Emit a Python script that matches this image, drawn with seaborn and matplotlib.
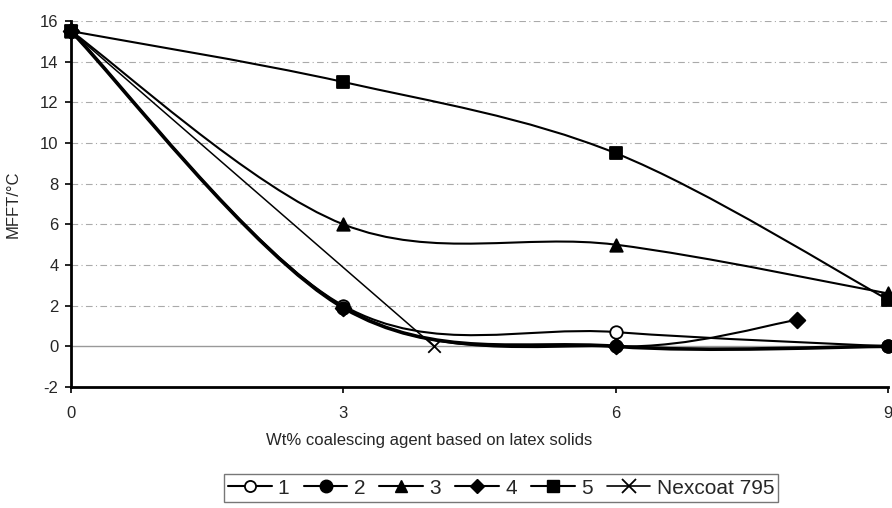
import matplotlib
matplotlib.use("Agg")
import matplotlib.pyplot as plt
from matplotlib.path import Path
from matplotlib.patches import PathPatch
from matplotlib.lines import Line2D
import seaborn as sns
import pandas as pd

# MFFT vs coalescing agent level
x_1 = [0, 3, 6, 9]
y_1 = [15.5, 2.0, 0.7, 0.0]
x_2 = [0, 3, 6, 9]
y_2 = [15.5, 1.9, 0.0, 0.0]
x_3 = [0, 3, 6, 9]
y_3 = [15.5, 6.0, 5.0, 2.6]
x_4 = [0, 3, 6, 8]
y_4 = [15.5, 1.9, 0.0, 1.3]
x_5 = [0, 3, 6, 9]
y_5 = [15.5, 13.0, 9.5, 2.3]
x_nex = [0, 4]
y_nex = [15.5, 0.0]

labels = ["1", "2", "3", "4", "5", "Nexcoat 795"]
x_ticks = [0, 3, 6, 9]
y_ticks = [-2, 0, 2, 4, 6, 8, 10, 12, 14, 16]

series = [
    (labels[3], x_4, y_4, "D", "black", 1.5, 8),
    (labels[4], x_5, y_5, "s", "black", 1.5, 9),
    (labels[2], x_3, y_3, "^", "black", 1.5, 9),
    (labels[0], x_1, y_1, "o", "white", 1.5, 9),
    (labels[1], x_2, y_2, "o", "black", 2.6, 9),
    (labels[5], x_nex, y_nex, "x", "black", 1.1, 9),
]


def smooth_path(xs, ys):
    # Excel-style smoothed line: cubic bezier segments through the points
    pts = list(zip(xs, ys))
    n = len(pts)
    verts = [pts[0]]
    codes = [Path.MOVETO]
    for i in range(n - 1):
        p0 = pts[i - 1] if i > 0 else pts[i]
        p1 = pts[i]
        p2 = pts[i + 1]
        p3 = pts[i + 2] if i + 2 < n else pts[i + 1]
        c1 = (p1[0] + (p2[0] - p0[0]) / 6, p1[1] + (p2[1] - p0[1]) / 6)
        c2 = (p2[0] - (p3[0] - p1[0]) / 6, p2[1] - (p3[1] - p1[1]) / 6)
        verts += [c1, c2, p2]
        codes += [Path.CURVE4] * 3
    return Path(verts, codes)


sns.set_style("white")
plt.rcParams["font.family"] = ["Liberation Sans", "DejaVu Sans"]
plt.rcParams["axes.unicode_minus"] = False

fig = plt.figure(figsize=(8.92, 5.08), dpi=100)
ax = fig.add_axes([71 / 892, 1 - 387 / 508, 817 / 892, 366 / 508])

# grid
for yv in y_ticks[1:]:
    if yv == 0:
        ax.axhline(yv, color="#999999", lw=1.0, zorder=0)
    else:
        ax.axhline(yv, color="#aaaaaa", lw=0.8, ls=(0, (6, 3, 1, 3)), zorder=0)

for name, xs, ys, mk, fc, lw, ms in series:
    ax.add_patch(PathPatch(smooth_path(xs, ys), fill=False, edgecolor="black",
                           lw=lw, zorder=2, clip_on=False))
    df = pd.DataFrame({"x": xs, "y": ys})
    if mk == "x":
        sns.scatterplot(data=df, x="x", y="y", marker="x", s=ms ** 2, color="black",
                        linewidth=1.3, ax=ax, zorder=3, clip_on=False, legend=False)
    else:
        sns.scatterplot(data=df, x="x", y="y", marker=mk, s=ms ** 2, color=fc,
                        edgecolor="black", linewidth=1.3, ax=ax, zorder=3,
                        clip_on=False, legend=False)

ax.set_xlim(0, 9)
ax.set_ylim(-2, 16)
ax.set_xticks(x_ticks)
ax.set_yticks(y_ticks)
ax.tick_params(axis="both", labelsize=12, length=4, width=1.2, direction="out",
               color="black", bottom=True, left=True)
ax.tick_params(axis="x", pad=10)
ax.tick_params(axis="y", pad=5)
for s in ["top", "right"]:
    ax.spines[s].set_visible(False)
for s in ["left", "bottom"]:
    ax.spines[s].set_color("black")
    ax.spines[s].set_linewidth(2.0)

ax.set_xlabel("Wt% coalescing agent based on latex solids", fontsize=12)
ax.xaxis.set_label_coords((429 - 71) / 817, (387 - 440) / 366)
ax.xaxis.label.set_va("center")
ax.set_ylabel("MFFT/°C", fontsize=12)
ax.yaxis.set_label_coords((13 - 71) / 817, 0.5)
ax.yaxis.label.set_va("center")

handles = [
    Line2D([], [], color="black", lw=1.5, marker="o", mfc="white", mec="black", ms=8, mew=1.3),
    Line2D([], [], color="black", lw=1.5, marker="o", mfc="black", mec="black", ms=9),
    Line2D([], [], color="black", lw=1.5, marker="^", mfc="black", mec="black", ms=9),
    Line2D([], [], color="black", lw=1.5, marker="D", mfc="black", mec="black", ms=7),
    Line2D([], [], color="black", lw=1.5, marker="s", mfc="black", mec="black", ms=9),
    Line2D([], [], color="black", lw=1.2, marker="x", mfc="black", mec="black", ms=10, mew=1.3),
]
leg = fig.legend(handles, labels, loc="center", ncol=6,
                 bbox_to_anchor=(501 / 892, 1 - 488 / 508), fontsize=15,
                 frameon=True, fancybox=False, handlelength=2.1,
                 handletextpad=0.3, columnspacing=0.68, borderpad=0.2,
                 borderaxespad=0)
leg.get_frame().set_edgecolor("#555555")
leg.get_frame().set_linewidth(1.0)

fig.savefig("out.png", dpi=100)
